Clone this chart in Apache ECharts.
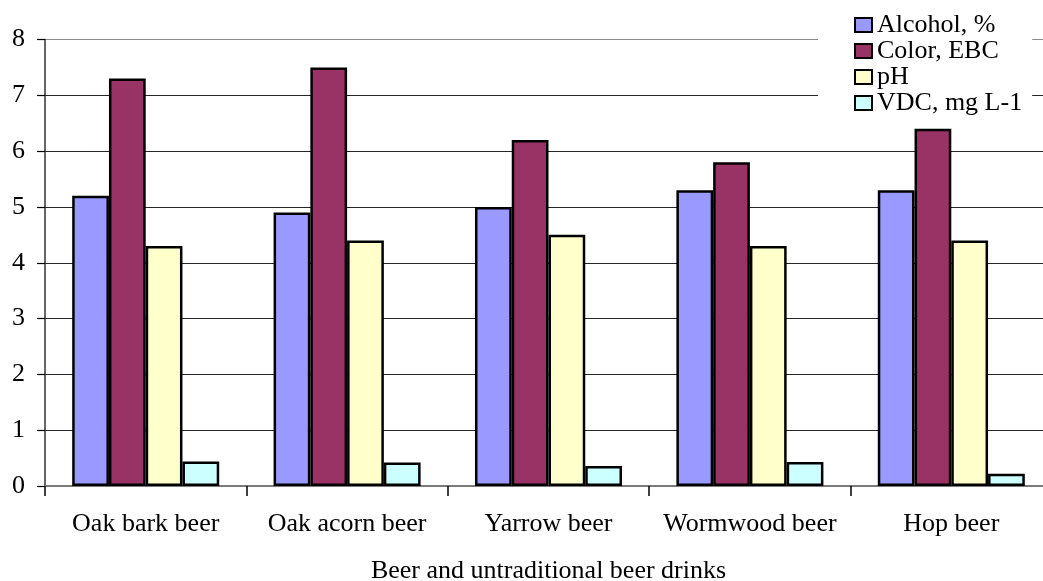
<!DOCTYPE html>
<html>
<head>
<meta charset="utf-8">
<script src="https://cdn.jsdelivr.net/npm/echarts@6/dist/echarts.min.js"></script>
<style>
  html, body { margin: 0; padding: 0; background: #fff; overflow: hidden; }
  #chart { width: 1043px; height: 581px; overflow: hidden; }
</style>
</head>
<body>
<div id="chart"></div>
<script>
// Beer quality indicators per drink
const categories = ['Oak bark beer', 'Oak acorn beer', 'Yarrow beer', 'Wormwood beer', 'Hop beer'];
const alcohol = [5.2, 4.9, 5.0, 5.3, 5.3];
const colorEBC = [7.3, 7.5, 6.2, 5.8, 6.4];
const pH = [4.3, 4.4, 4.5, 4.3, 4.4];
const vdc = [0.44, 0.42, 0.36, 0.43, 0.22];
const yTicks = [0, 1, 2, 3, 4, 5, 6, 7, 8];

const seriesNames = ['Alcohol, %', 'Color, EBC', 'pH', 'VDC, mg L-1'];
const seriesData = [alcohol, colorEBC, pH, vdc];
const seriesColors = ['#9999FF', '#993366', '#FFFFCC', '#CCFFFF'];

const FONT = '"Liberation Serif", "Times New Roman", serif';

const chart = echarts.init(document.getElementById('chart'), null, { width: 1043, height: 581 });

chart.setOption({
  animation: false,
  backgroundColor: '#ffffff',
  textStyle: { fontFamily: FONT, color: '#000' },
  // the plot runs slightly past the right edge of the canvas; keep the grid where it is placed
  grid: { left: 45, top: 39.5, right: -9, bottom: 95, containLabel: false, outerBoundsMode: 'none' },
  legend: {
    orient: 'vertical',
    left: 818,
    top: 0,
    padding: [12, 10, 8, 36],
    backgroundColor: '#ffffff',
    itemWidth: 17,
    itemHeight: 14,
    itemGap: 0,
    icon: 'rect',
    textStyle: { fontFamily: FONT, fontSize: 26, lineHeight: 25.5, color: '#000' },
    itemStyle: { borderColor: '#000', borderWidth: 2 },
    data: seriesNames
  },
  xAxis: {
    type: 'category',
    data: categories,
    name: 'Beer and untraditional beer drinks',
    nameLocation: 'middle',
    nameGap: 72,
    nameTextStyle: { fontFamily: FONT, fontSize: 26, color: '#000' },
    axisLine: { show: true, lineStyle: { color: '#7a7a7a', width: 2 } },
    axisTick: { show: true, interval: 0, length: 10, lineStyle: { color: '#000', width: 1.5 } },
    axisLabel: { interval: 0, fontFamily: FONT, fontSize: 26, color: '#000', margin: 25 },
    splitLine: { show: false }
  },
  yAxis: {
    type: 'value',
    min: yTicks[0],
    max: yTicks[yTicks.length - 1],
    interval: 1,
    axisLine: { show: true, lineStyle: { color: '#333', width: 1.5 } },
    axisTick: { show: true, length: 8, lineStyle: { color: '#000', width: 1.2 } },
    axisLabel: { fontFamily: FONT, fontSize: 26, color: '#000', margin: 20 },
    splitLine: {
      show: true,
      lineStyle: {
        color: ['#262626', '#262626', '#262626', '#262626', '#262626', '#262626', '#262626', '#262626', '#8c8c8c'],
        width: 1.2
      }
    }
  },
  series: seriesNames.map((name, i) => ({
    name: name,
    type: 'bar',
    data: seriesData[i],
    barGap: '0%',
    barCategoryGap: '27%',
    itemStyle: { color: seriesColors[i], borderColor: '#000', borderWidth: 2.5 }
  }))
});
</script>
</body>
</html>
